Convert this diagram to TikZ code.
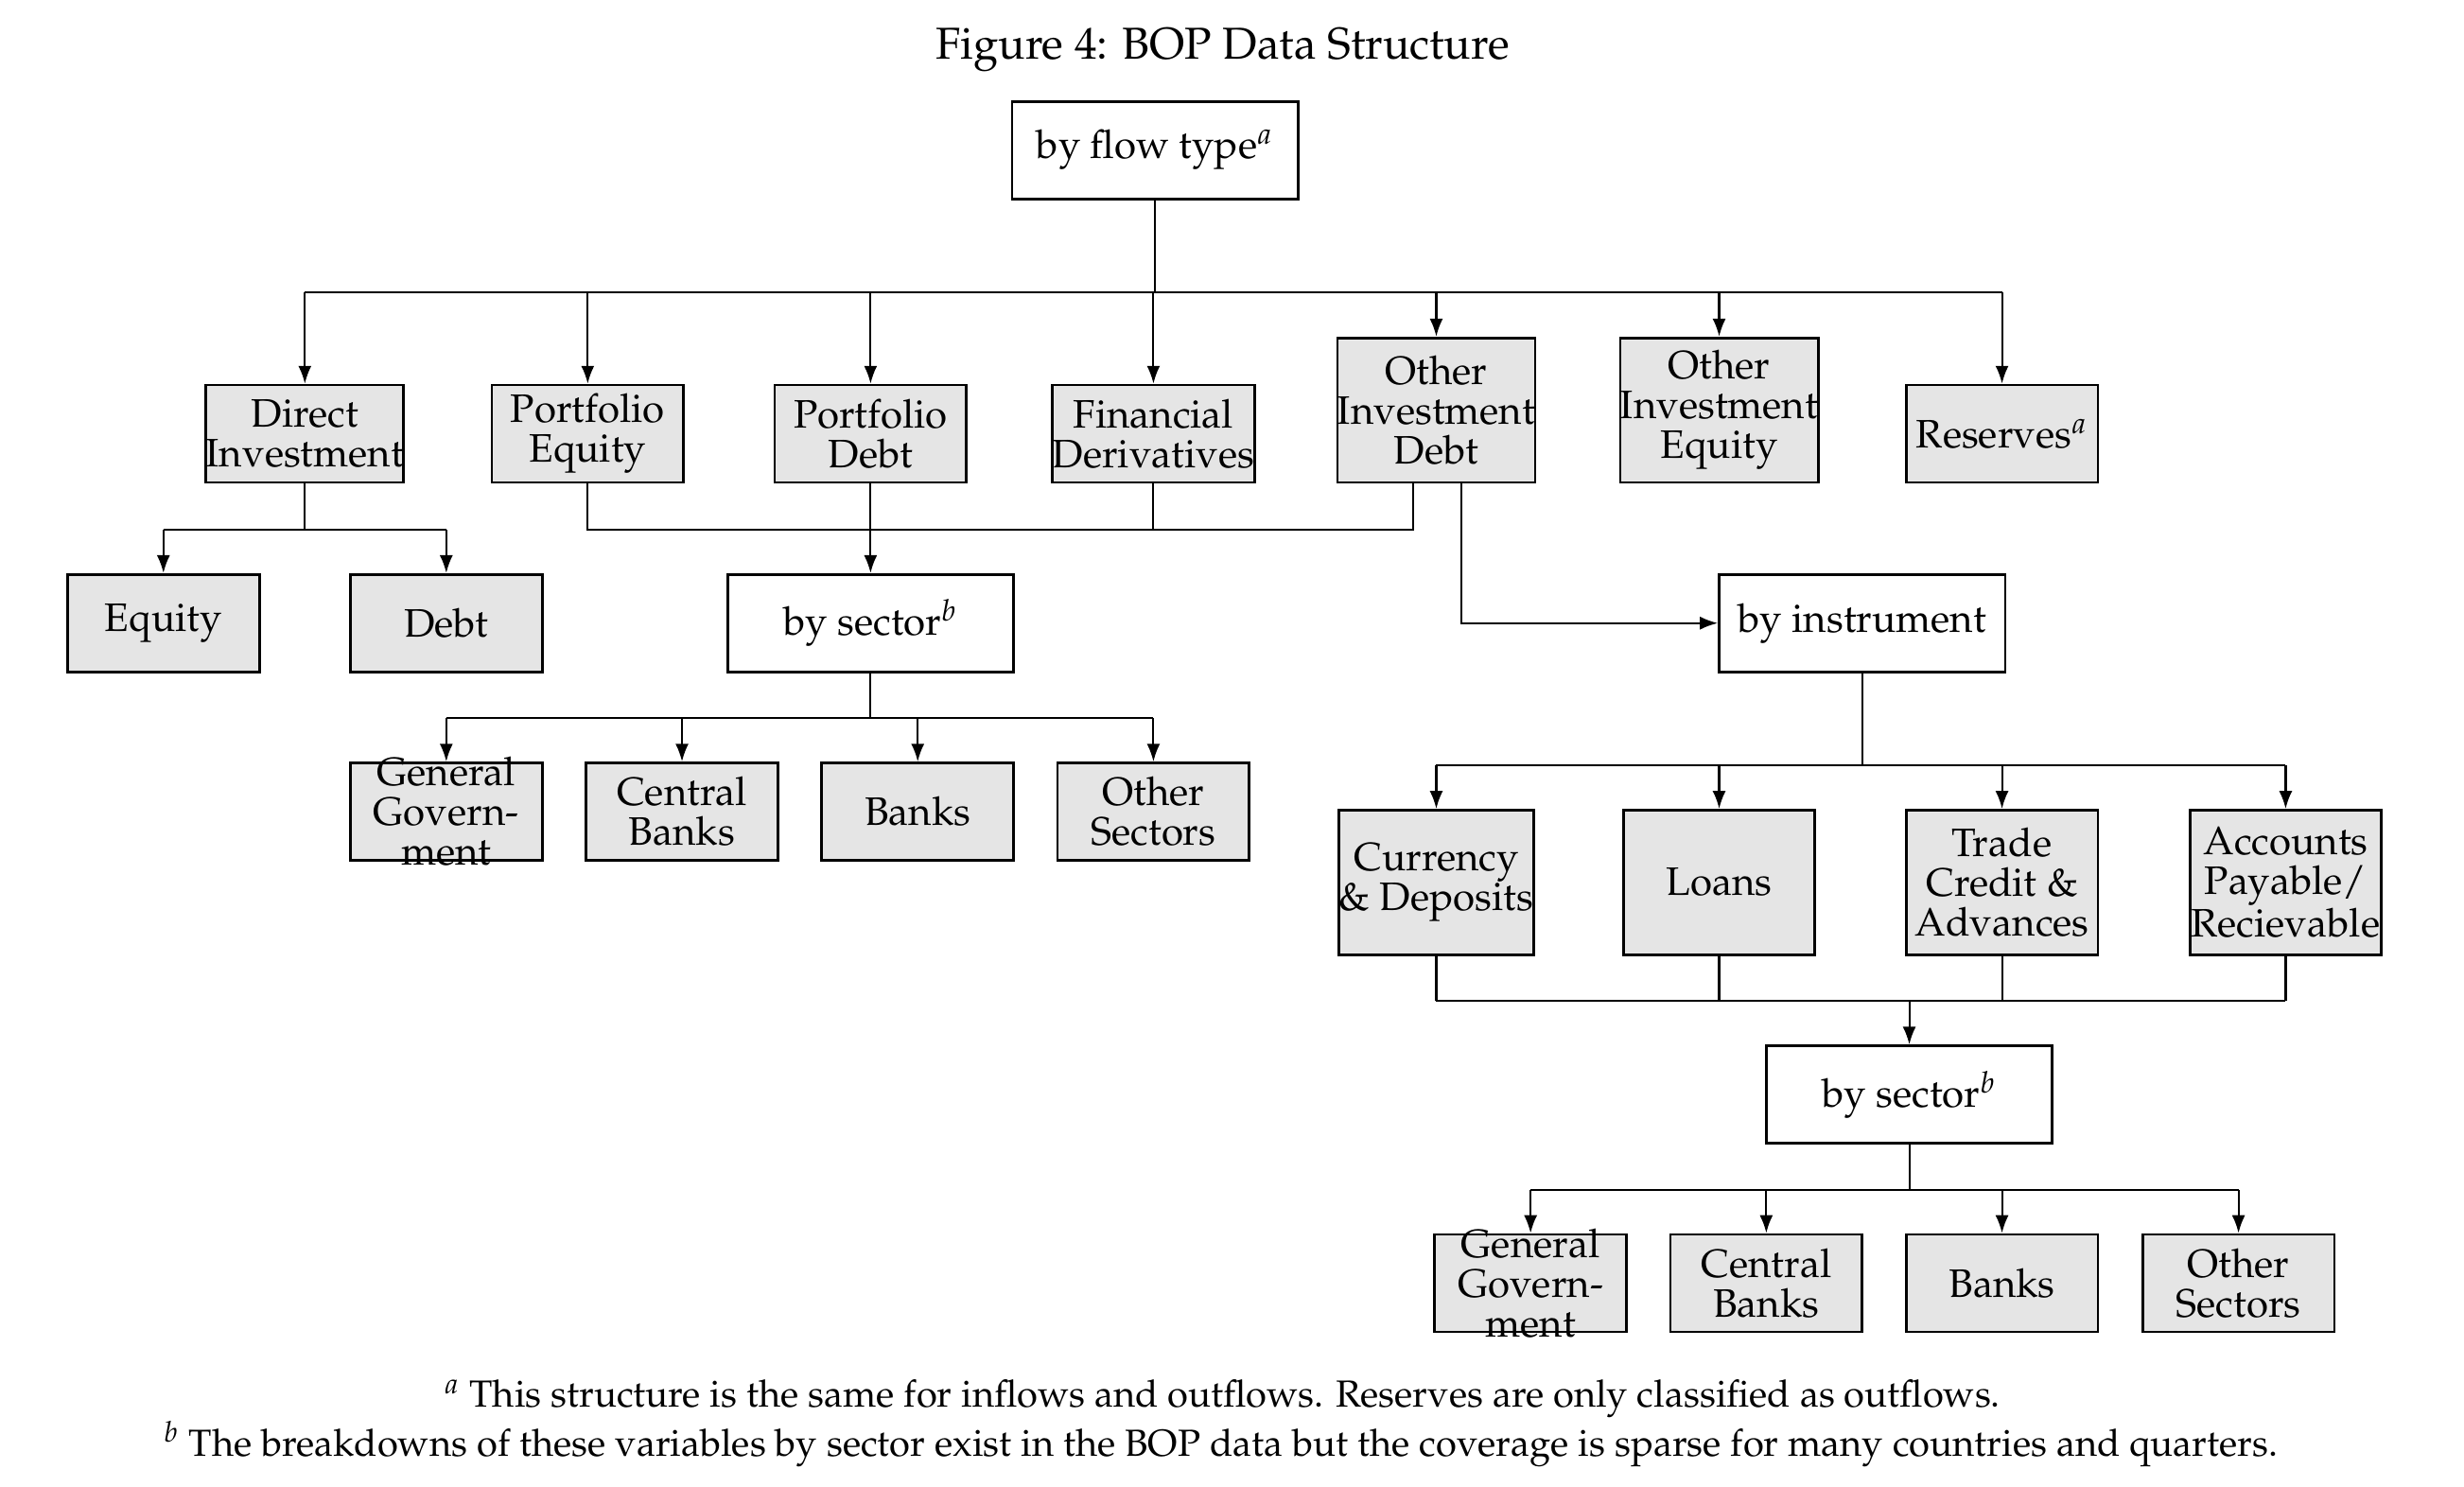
\documentclass[tikz,border=0pt]{standalone}
\usepackage[T1]{fontenc}
\usepackage{mathpazo}
\usetikzlibrary{arrows.meta, calc}

\begin{document}
\begin{tikzpicture}[x=0.475pt, y=-0.475pt, >={Latex[length=5.4pt,width=4pt]},
    font=\fontsize{12}{12}\selectfont, line width=0.6pt,
    cell/.style={draw, line width=0.8pt, fill=gray!20, minimum width=122*0.475pt, minimum height=62*0.475pt, inner sep=0pt, align=center},
    cellthree/.style={cell, minimum height=92*0.475pt},
    whitebox/.style={cell, fill=white, minimum width=182*0.475pt, minimum height=62*0.475pt},
    lbl/.style={inner sep=0pt, align=center},
    note/.style={font=\fontsize{11.4}{13}\selectfont}]

\useasboundingbox (0,0) rectangle (1568,946);

%\draw[step=50, gray!40] (0,0) grid (1568,946);

\node (title) at (778,32) {\fontsize{13.5}{16}\selectfont Figure 4: BOP Data Structure};

\node[whitebox] (flow) at (735,95.5) {by flow type$^a$};

% flow types
\node[cell] (di) at (194,276) {Direct\\Investment};
\node[cell] (pe) at (374,276) {Portfolio\\Equity};
\node[cell] (pd) at (554,276) {Portfolio\\Debt};
\node[cell] (fd) at (734,276) {Financial\\Derivatives};
\node[cellthree] (oid) at (914,261) {Other\\Investment\\Debt};
\node[cellthree] (oie) at (1094,261) {Other\\Investment\\Equity};
\node[cell] (res) at (1274,276) {Reserves$^a$};

\node[cell] (eq) at (104,396.5) {Equity};
\node[cell] (debt) at (284,396.5) {Debt};
\node[whitebox] (sec1) at (554,396.5) {by sector$^b$};
\node[whitebox] (inst) at (1185,396.5) {by instrument};

% sectors, left
\node[cell] (gg1) at (284,516.5) {};
\node[lbl] (gg1t) at (gg1) {General\\Govern-\\ment};
\node[cell] (cb1) at (434,516.5) {Central\\Banks};
\node[cell] (bk1) at (584,516.5) {Banks};
\node[cell] (os1) at (734,516.5) {Other\\Sectors};

% instruments
\node[cellthree] (cd) at (914,561.5) {Currency\\\& Deposits};
\node[cellthree] (loans) at (1094,561.5) {Loans};
\node[cellthree] (tca) at (1274,561.5) {Trade\\Credit \&\\Advances};
\node[cellthree] (apr) at (1454.5,561.5) {Accounts\\Payable/\\Recievable};

\node[whitebox] (sec2) at (1215,696.5) {by sector$^b$};

% sectors, right
\node[cell] (gg2) at (974,816.5) {};
\node[lbl] (gg2t) at (gg2) {General\\Govern-\\ment};
\node[cell] (cb2) at (1124,816.5) {Central\\Banks};
\node[cell] (bk2) at (1274,816.5) {Banks};
\node[cell] (os2) at (1424.5,816.5) {Other\\Sectors};

\node[note] (fna) at (778,890) {$^a$ This structure is the same for inflows and outflows. Reserves are only classified as outflows.};
\node[note] (fnb) at (777,919) {$^b$ The breakdowns of these variables by sector exist in the BOP data but the coverage is sparse for many countries and quarters.};

\coordinate (busa) at (0,186);
\coordinate (busb) at (0,337);
\coordinate (busc) at (0,457);
\coordinate (busd) at (0,487);
\coordinate (buse) at (0,637);
\coordinate (busf) at (0,757);
\coordinate (oidl) at ($(oid.south)+(-15,0)$);
\coordinate (oidr) at ($(oid.south)+(16,0)$);

\draw (flow.south) -- (flow.south |- busa);
\draw (di.north |- busa) -- (res.north |- busa);
\foreach \n in {di,pe,pd,fd,oid,oie,res}
    \draw[->] (\n.north |- busa) -- (\n.north);

\draw (di.south) -- (di.south |- busb);
\draw (eq.north |- busb) -- (debt.north |- busb);
\foreach \n in {eq,debt}
    \draw[->] (\n.north |- busb) -- (\n.north);

\draw (pe.south) |- (oidl |- busb) -- (oidl);
\draw (pd.south) -- (pd.south |- busb);
\draw (fd.south) -- (fd.south |- busb);
\draw[->] (pd.south |- busb) -- (sec1.north);

\draw[->] (oidr) |- (inst.west);

\draw (sec1.south) -- (sec1.south |- busc);
\draw (gg1.north |- busc) -- (os1.north |- busc);
\foreach \n in {gg1,cb1,bk1,os1}
    \draw[->] (\n.north |- busc) -- (\n.north);

\draw (inst.south) -- (inst.south |- busd);
\draw (cd.north |- busd) -- (apr.north |- busd);
\foreach \n in {cd,loans,tca,apr}
    \draw[->] (\n.north |- busd) -- (\n.north);

\foreach \n in {cd,loans,tca,apr}
    \draw (\n.south) -- (\n.south |- buse);
\draw (cd.south |- buse) -- (apr.south |- buse);
\draw[->] (sec2.north |- buse) -- (sec2.north);

\draw (sec2.south) -- (sec2.south |- busf);
\draw (gg2.north |- busf) -- (os2.north |- busf);
\foreach \n in {gg2,cb2,bk2,os2}
    \draw[->] (\n.north |- busf) -- (\n.north);

\end{tikzpicture}
\end{document}
